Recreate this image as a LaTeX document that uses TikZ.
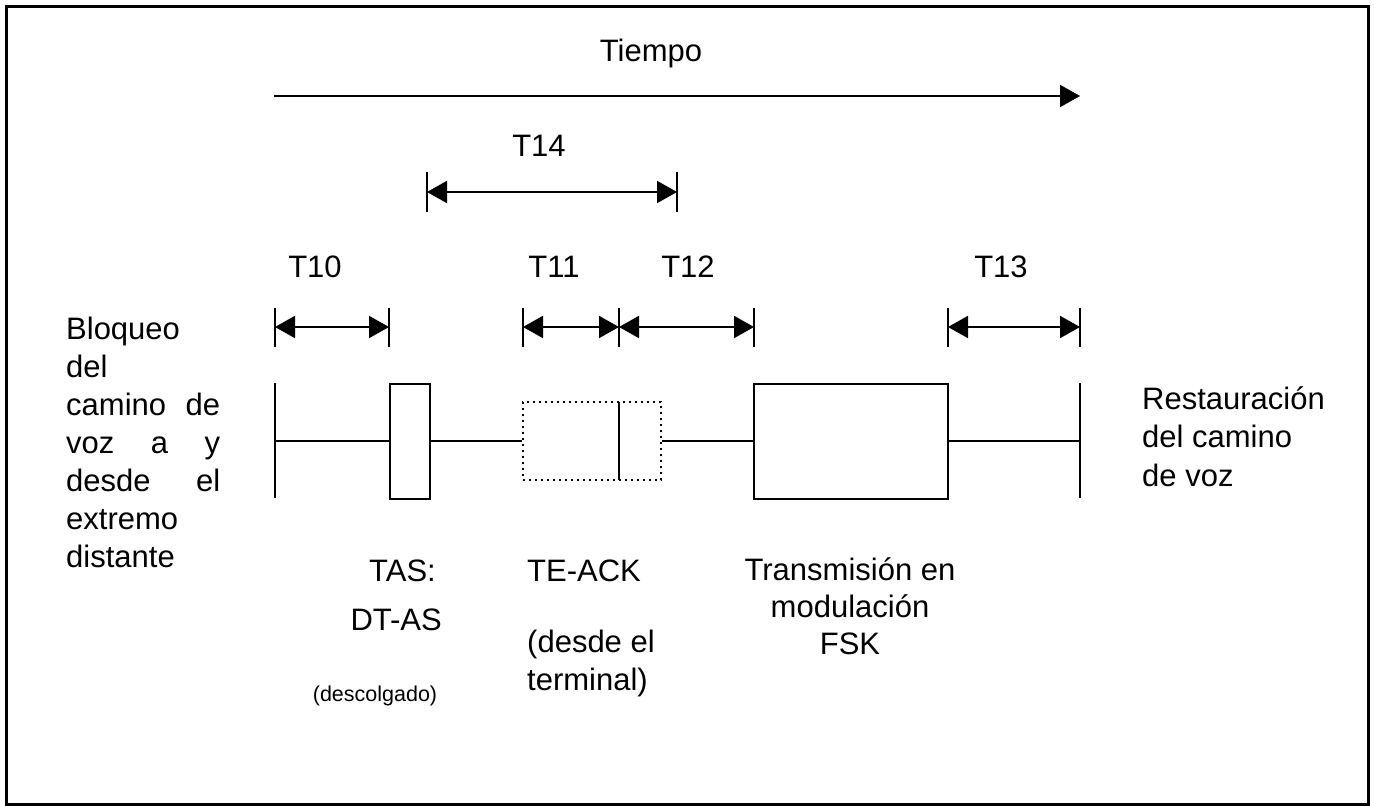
\documentclass[tikz,border=0pt]{standalone}
\usepackage{fontspec}
\setmainfont{Liberation Sans}
\usetikzlibrary{arrows.meta}
\begin{document}
\begin{tikzpicture}[x=1pt,y=-1pt,
  ln/.style={line width=2pt},
  dimarrow/.style={line width=2pt,{Triangle[length=20pt,width=22pt]}-{Triangle[length=20pt,width=22pt]}},
  timearrow/.style={line width=2pt,-{Triangle[length=20pt,width=22pt]}},
  lbl/.style={font=\fontsize{31}{37.5}\selectfont, inner sep=0pt},
  small/.style={font=\fontsize{21.5}{26}\selectfont, inner sep=0pt},
  solidbox/.style={draw, line width=2pt, inner sep=0pt},
  dotbox/.style={draw, line width=2pt, dash pattern=on 2pt off 4pt, inner sep=0pt}]
\useasboundingbox (0,0) rectangle (1374,806);
\draw[line width=3pt] (6,6) rectangle (1368,804);

% time axis
\node[lbl, anchor=base] (tiempo) at (651,61) {Tiempo};
\coordinate (ts) at (274,96);
\coordinate (te) at (1080,96);
\draw[timearrow] (ts) -- (te);

% T14
\node[lbl, anchor=base] (t14) at (539,156) {T14};
\coordinate (a14) at (427,192);
\coordinate (b14) at (677,192);
\draw[ln] ([yshift=20pt]a14) -- ([yshift=-20pt]a14);
\draw[ln] ([yshift=20pt]b14) -- ([yshift=-20pt]b14);
\draw[dimarrow] (a14) -- (b14);

% T10..T13 labels
\node[lbl, anchor=base] (t10) at (315,277) {T10};
\node[lbl, anchor=base] (t11) at (554,277) {T11};
\node[lbl, anchor=base] (t12) at (688,277) {T12};
\node[lbl, anchor=base] (t13) at (1001,277) {T13};

% dimension ticks
\coordinate (d1) at (275,327);
\coordinate (d2) at (389,327);
\coordinate (d3) at (523,327);
\coordinate (d4) at (619,327);
\coordinate (d5) at (754,327);
\coordinate (d6) at (948,327);
\coordinate (d7) at (1080,327);
\foreach \c in {d1,d2,d3,d4,d5,d6,d7}
  \draw[ln] ([yshift=19.5pt]\c) -- ([yshift=-19.5pt]\c);
\draw[dimarrow] (d1) -- (d2);
\draw[dimarrow] (d3) -- (d4);
\draw[dimarrow] (d4) -- (d5);
\draw[dimarrow] (d6) -- (d7);

% timeline
\coordinate (s1) at (275,383);
\coordinate (s2) at (275,498);
\coordinate (s1m) at (275,441);
\draw[ln] (s1) -- (s2);
\coordinate (e1) at (1080,383);
\coordinate (e2) at (1080,498);
\coordinate (e1m) at (1080,441);
\draw[ln] (e1) -- (e2);

\node[solidbox, minimum width=40pt, minimum height=115pt] (tas) at (409.5,441) {};
\node[dotbox, minimum width=138pt, minimum height=78pt] (ack) at (592,441) {};
\coordinate (ackd1) at (619,402);
\coordinate (ackd2) at (619,480);
\draw[ln] (ackd1) -- (ackd2);
\node[solidbox, minimum width=194pt, minimum height=115pt] (fsk) at (851,441) {};

\draw[ln] (s1m) -- (tas.west);
\draw[ln] (tas.east) -- (ack.west);
\draw[ln] (ack.east) -- (fsk.west);
\draw[ln] (fsk.east) -- (e1m);

% left text (base anchor = last line)
\node[lbl, font=\fontsize{31}{38}\selectfont, anchor=base west, align=left] (blq) at (66,567)
  {Bloqueo\\del\\\hbox to 154pt{camino\hfill de}\\\hbox to 154pt{voz\hfill a\hfill y}\\\hbox to 154pt{desde\hfill el}\\extremo\\distante};

% right text
\node[lbl, font=\fontsize{31}{38.5}\selectfont, anchor=base west, align=left] (rest) at (1142,486)
  {Restauración\\del camino\\de voz};

% bottom texts
\node[lbl, anchor=base east] (tasl) at (436,581) {TAS:};
\node[lbl, anchor=base east] (dtas) at (442,630) {DT-AS};
\node[small, anchor=base] (desc) at (375,701) {(descolgado)};
\node[lbl, anchor=base west] (teack) at (527,581) {TE-ACK};
\node[lbl, font=\fontsize{31}{38}\selectfont, anchor=base west, align=left] (desde) at (527,690) {(desde el\\terminal)};
\node[lbl, font=\fontsize{31}{37}\selectfont, anchor=base, align=center] (trans) at (850,654) {Transmisión en\\modulación\\FSK};
\end{tikzpicture}
\end{document}
